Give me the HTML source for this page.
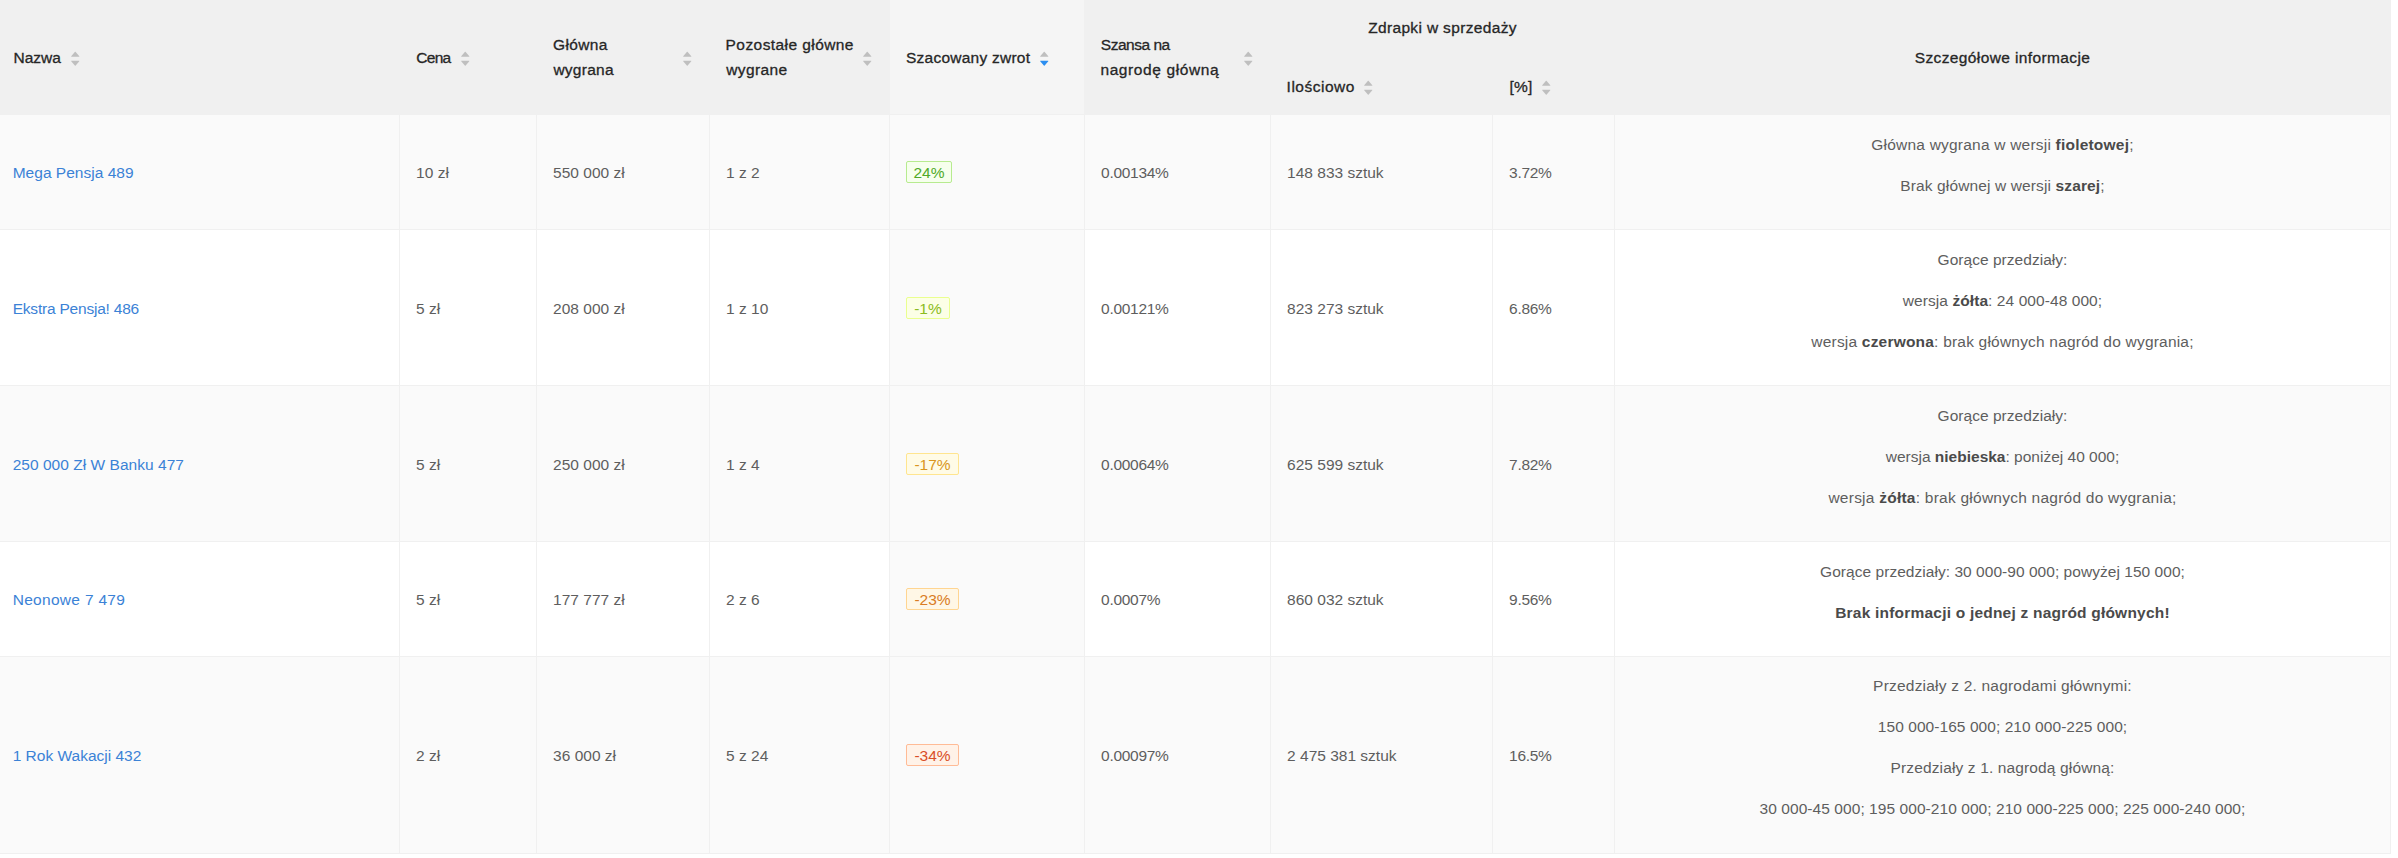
<!DOCTYPE html>
<html lang="pl"><head><meta charset="utf-8"><title>Zdrapki</title>
<style>
html,body{margin:0;padding:0;background:#fff;}
body{width:2398px;height:858px;overflow:hidden;position:relative;font-family:"Liberation Sans",sans-serif;color:#5e5e5e;}
.tb{position:absolute;left:0;top:0;width:2391px;height:854px;}
.bg{position:absolute;}
.t{position:absolute;white-space:nowrap;line-height:25px;height:25px;font-size:15.5px;}
.c{text-align:center;left:1615px;width:775px;}
.h{color:#262626;font-size:15.5px;-webkit-text-stroke:0.3px #262626;}
a{color:#3b82d6;text-decoration:none;}
b{font-weight:700;color:#4a4a4a;}
.tag{position:absolute;box-sizing:border-box;height:22px;border:1px solid;border-radius:2px;line-height:22px;font-size:15.5px;text-align:center;white-space:nowrap;}
svg{position:absolute;display:block;}
</style></head><body><div class="tb">

<div class="bg" style="left:0;top:0;width:2391px;height:115px;background:#f0f0f0"></div>
<div class="bg" style="left:890px;top:0;width:194px;height:114px;background:#f5f5f5"></div>
<div class="bg" style="left:0;top:115px;width:2391px;height:114px;background:#fafafa"></div>
<div class="bg" style="left:0;top:229px;width:2391px;height:1px;background:#f0f0f0"></div>
<div class="bg" style="left:0;top:230px;width:2391px;height:155px;background:#ffffff"></div>
<div class="bg" style="left:890px;top:230px;width:194px;height:155px;background:#fafafa"></div>
<div class="bg" style="left:0;top:385px;width:2391px;height:1px;background:#f0f0f0"></div>
<div class="bg" style="left:0;top:386px;width:2391px;height:155px;background:#fafafa"></div>
<div class="bg" style="left:0;top:541px;width:2391px;height:1px;background:#f0f0f0"></div>
<div class="bg" style="left:0;top:542px;width:2391px;height:114px;background:#ffffff"></div>
<div class="bg" style="left:890px;top:542px;width:194px;height:114px;background:#fafafa"></div>
<div class="bg" style="left:0;top:656px;width:2391px;height:1px;background:#f0f0f0"></div>
<div class="bg" style="left:0;top:657px;width:2391px;height:196px;background:#fafafa"></div>
<div class="bg" style="left:0;top:853px;width:2391px;height:1px;background:#f0f0f0"></div>
<div class="bg" style="left:399px;top:115px;width:1px;height:739px;background:#f0f0f0"></div>
<div class="bg" style="left:536px;top:115px;width:1px;height:739px;background:#f0f0f0"></div>
<div class="bg" style="left:709px;top:115px;width:1px;height:739px;background:#f0f0f0"></div>
<div class="bg" style="left:889px;top:115px;width:1px;height:739px;background:#f0f0f0"></div>
<div class="bg" style="left:1084px;top:115px;width:1px;height:739px;background:#f0f0f0"></div>
<div class="bg" style="left:1270px;top:115px;width:1px;height:739px;background:#f0f0f0"></div>
<div class="bg" style="left:1492px;top:115px;width:1px;height:739px;background:#f0f0f0"></div>
<div class="bg" style="left:1614px;top:115px;width:1px;height:739px;background:#f0f0f0"></div>
<div class="bg" style="left:2390px;top:115px;width:1px;height:739px;background:#f0f0f0"></div>
<div id="h1" class="t h" style="top:45px;left:13.60px;letter-spacing:-0.050px;">Nazwa</div>
<svg style="left:70.25px;top:49.15px" width="10.5" height="10.5" viewBox="64 64 896 896"><path fill="#bfbfbf" d="M858.9 689L530.5 308.2c-9.400-10.900-27.500-10.900-37 0L165.100 689c-12.200 14.200-1.200 35 18.500 35h656.800c19.700 0 30.700-20.800 18.500-35z"/></svg>
<svg style="left:70.25px;top:57.60px" width="10.5" height="10.5" viewBox="64 64 896 896"><path fill="#bfbfbf" d="M840.4 300H183.600c-19.700 0-30.700 20.800-18.500 35l328.400 380.800c9.400 10.900 27.500 10.900 37 0L858.900 335c12.200-14.200 1.200-35-18.500-35z"/></svg>
<div id="h2" class="t h" style="top:45px;left:416.30px;letter-spacing:-0.733px;">Cena</div>
<svg style="left:460.25px;top:49.15px" width="10.5" height="10.5" viewBox="64 64 896 896"><path fill="#bfbfbf" d="M858.9 689L530.5 308.2c-9.400-10.900-27.500-10.900-37 0L165.100 689c-12.200 14.200-1.200 35 18.500 35h656.800c19.700 0 30.700-20.800 18.500-35z"/></svg>
<svg style="left:460.25px;top:57.60px" width="10.5" height="10.5" viewBox="64 64 896 896"><path fill="#bfbfbf" d="M840.4 300H183.600c-19.700 0-30.700 20.800-18.500 35l328.400 380.800c9.400 10.900 27.500 10.900 37 0L858.900 335c12.200-14.200 1.200-35-18.500-35z"/></svg>
<div id="h3a" class="t h" style="top:32px;left:553.00px;letter-spacing:0.360px;">Główna</div>
<div id="h3b" class="t h" style="top:57px;left:553.40px;letter-spacing:0.267px;">wygrana</div>
<svg style="left:682.05px;top:49.15px" width="10.5" height="10.5" viewBox="64 64 896 896"><path fill="#bfbfbf" d="M858.9 689L530.5 308.2c-9.400-10.900-27.500-10.900-37 0L165.100 689c-12.200 14.200-1.200 35 18.500 35h656.800c19.700 0 30.700-20.800 18.500-35z"/></svg>
<svg style="left:682.05px;top:57.60px" width="10.5" height="10.5" viewBox="64 64 896 896"><path fill="#bfbfbf" d="M840.4 300H183.600c-19.700 0-30.700 20.800-18.500 35l328.400 380.800c9.400 10.900 27.500 10.900 37 0L858.900 335c12.200-14.200 1.200-35-18.500-35z"/></svg>
<div id="h4a" class="t h" style="top:32px;left:725.60px;letter-spacing:0.427px;">Pozostałe główne</div>
<div id="h4b" class="t h" style="top:57px;left:726.30px;letter-spacing:0.367px;">wygrane</div>
<svg style="left:862.05px;top:49.15px" width="10.5" height="10.5" viewBox="64 64 896 896"><path fill="#bfbfbf" d="M858.9 689L530.5 308.2c-9.400-10.900-27.500-10.900-37 0L165.100 689c-12.200 14.200-1.200 35 18.500 35h656.800c19.700 0 30.700-20.800 18.500-35z"/></svg>
<svg style="left:862.05px;top:57.60px" width="10.5" height="10.5" viewBox="64 64 896 896"><path fill="#bfbfbf" d="M840.4 300H183.600c-19.700 0-30.700 20.800-18.500 35l328.400 380.800c9.400 10.900 27.500 10.900 37 0L858.900 335c12.200-14.200 1.200-35-18.500-35z"/></svg>
<div id="h5" class="t h" style="top:45px;left:906.00px;letter-spacing:0.243px;">Szacowany zwrot</div>
<svg style="left:1039.25px;top:49.15px" width="10.5" height="10.5" viewBox="64 64 896 896"><path fill="#bfbfbf" d="M858.9 689L530.5 308.2c-9.400-10.900-27.500-10.900-37 0L165.100 689c-12.200 14.200-1.200 35 18.500 35h656.800c19.700 0 30.700-20.800 18.500-35z"/></svg>
<svg style="left:1039.25px;top:57.60px" width="10.5" height="10.5" viewBox="64 64 896 896"><path fill="#2b8ef0" d="M840.4 300H183.600c-19.700 0-30.700 20.800-18.500 35l328.400 380.800c9.400 10.900 27.500 10.900 37 0L858.900 335c12.200-14.200 1.200-35-18.500-35z"/></svg>
<div id="h6a" class="t h" style="top:32px;left:1100.80px;letter-spacing:-0.475px;">Szansa na</div>
<div id="h6b" class="t h" style="top:57px;left:1100.40px;letter-spacing:0.615px;">nagrodę główną</div>
<svg style="left:1243.15px;top:49.15px" width="10.5" height="10.5" viewBox="64 64 896 896"><path fill="#bfbfbf" d="M858.9 689L530.5 308.2c-9.400-10.900-27.500-10.900-37 0L165.100 689c-12.200 14.200-1.200 35 18.500 35h656.800c19.700 0 30.700-20.800 18.500-35z"/></svg>
<svg style="left:1243.15px;top:57.60px" width="10.5" height="10.5" viewBox="64 64 896 896"><path fill="#bfbfbf" d="M840.4 300H183.600c-19.700 0-30.700 20.800-18.500 35l328.400 380.800c9.400 10.900 27.500 10.900 37 0L858.900 335c12.200-14.200 1.200-35-18.500-35z"/></svg>
<div id="h7" class="t h" style="top:15px;left:0.00px;letter-spacing:0.344px;left:1271px;width:343px;text-align:center;">Zdrapki w sprzedaży</div>
<div id="h8" class="t h" style="top:74px;left:1286.60px;letter-spacing:0.500px;">Ilościowo</div>
<svg style="left:1363.05px;top:78.15px" width="10.5" height="10.5" viewBox="64 64 896 896"><path fill="#bfbfbf" d="M858.9 689L530.5 308.2c-9.400-10.900-27.500-10.900-37 0L165.100 689c-12.200 14.200-1.200 35 18.500 35h656.800c19.700 0 30.700-20.800 18.500-35z"/></svg>
<svg style="left:1363.05px;top:86.60px" width="10.5" height="10.5" viewBox="64 64 896 896"><path fill="#bfbfbf" d="M840.4 300H183.600c-19.700 0-30.700 20.800-18.500 35l328.400 380.800c9.400 10.900 27.500 10.900 37 0L858.900 335c12.200-14.200 1.200-35-18.500-35z"/></svg>
<div id="h9" class="t h" style="top:74px;left:1509.60px;letter-spacing:0.100px;">[%]</div>
<svg style="left:1541.25px;top:78.15px" width="10.5" height="10.5" viewBox="64 64 896 896"><path fill="#bfbfbf" d="M858.9 689L530.5 308.2c-9.400-10.900-27.500-10.900-37 0L165.100 689c-12.200 14.200-1.200 35 18.500 35h656.800c19.700 0 30.700-20.800 18.500-35z"/></svg>
<svg style="left:1541.25px;top:86.60px" width="10.5" height="10.5" viewBox="64 64 896 896"><path fill="#bfbfbf" d="M840.4 300H183.600c-19.700 0-30.700 20.800-18.500 35l328.400 380.800c9.400 10.900 27.500 10.900 37 0L858.900 335c12.200-14.200 1.200-35-18.500-35z"/></svg>
<div id="h10" class="t h c" style="top:45px;letter-spacing:0.381px;">Szczegółowe informacje</div>
<div id="r0c1" class="t " style="top:160px;left:12.70px;letter-spacing:0.014px;"><a href="#">Mega Pensja 489</a></div>
<div id="r0c2" class="t " style="top:160px;left:416.10px;">10 zł</div>
<div id="r0c3" class="t " style="top:160px;left:553.10px;">550 000 zł</div>
<div id="r0c4" class="t " style="top:160px;left:726.10px;">1 z 2</div>
<div id="r0c6" class="t " style="top:160px;left:1101.10px;letter-spacing:-0.3px;">0.00134%</div>
<div id="r0c7" class="t " style="top:160px;left:1287.10px;">148 833 sztuk</div>
<div id="r0c8" class="t " style="top:160px;left:1509.10px;letter-spacing:-0.3px;">3.72%</div>
<div class="tag" style="left:906px;top:161px;width:46px;color:#4faa28;background:#f6ffed;border-color:#b7eb8f">24%</div>
<div id="r0p0" class="t  c" style="top:132px;letter-spacing:0.212px;">Główna wygrana w wersji <b>fioletowej</b>;</div>
<div id="r0p1" class="t  c" style="top:173px;letter-spacing:0.129px;">Brak głównej w wersji <b>szarej</b>;</div>
<div id="r1c1" class="t " style="top:296px;left:12.70px;letter-spacing:-0.212px;"><a href="#">Ekstra Pensja! 486</a></div>
<div id="r1c2" class="t " style="top:296px;left:416.10px;">5 zł</div>
<div id="r1c3" class="t " style="top:296px;left:553.10px;">208 000 zł</div>
<div id="r1c4" class="t " style="top:296px;left:726.10px;">1 z 10</div>
<div id="r1c6" class="t " style="top:296px;left:1101.10px;letter-spacing:-0.3px;">0.00121%</div>
<div id="r1c7" class="t " style="top:296px;left:1287.10px;">823 273 sztuk</div>
<div id="r1c8" class="t " style="top:296px;left:1509.10px;letter-spacing:-0.3px;">6.86%</div>
<div class="tag" style="left:906px;top:297px;width:44px;color:#8bbc20;background:#fcffe6;border-color:#eaff8f">-1%</div>
<div id="r1p0" class="t  c" style="top:247px;letter-spacing:0.035px;">Gorące przedziały:</div>
<div id="r1p1" class="t  c" style="top:288px;letter-spacing:0.074px;">wersja <b>żółta</b>: 24 000-48 000;</div>
<div id="r1p2" class="t  c" style="top:329px;letter-spacing:0.204px;">wersja <b>czerwona</b>: brak głównych nagród do wygrania;</div>
<div id="r2c1" class="t " style="top:452px;left:12.70px;letter-spacing:0.029px;"><a href="#">250 000 Zł W Banku 477</a></div>
<div id="r2c2" class="t " style="top:452px;left:416.10px;">5 zł</div>
<div id="r2c3" class="t " style="top:452px;left:553.10px;">250 000 zł</div>
<div id="r2c4" class="t " style="top:452px;left:726.10px;">1 z 4</div>
<div id="r2c6" class="t " style="top:452px;left:1101.10px;letter-spacing:-0.3px;">0.00064%</div>
<div id="r2c7" class="t " style="top:452px;left:1287.10px;">625 599 sztuk</div>
<div id="r2c8" class="t " style="top:452px;left:1509.10px;letter-spacing:-0.3px;">7.82%</div>
<div class="tag" style="left:906px;top:453px;width:53px;color:#d99621;background:#fffbe6;border-color:#ffe58f">-17%</div>
<div id="r2p0" class="t  c" style="top:403px;letter-spacing:0.035px;">Gorące przedziały:</div>
<div id="r2p1" class="t  c" style="top:444px;">wersja <b>niebieska</b>: poniżej 40 000;</div>
<div id="r2p2" class="t  c" style="top:485px;letter-spacing:0.239px;">wersja <b>żółta</b>: brak głównych nagród do wygrania;</div>
<div id="r3c1" class="t " style="top:587px;left:12.70px;letter-spacing:0.300px;"><a href="#">Neonowe 7 479</a></div>
<div id="r3c2" class="t " style="top:587px;left:416.10px;">5 zł</div>
<div id="r3c3" class="t " style="top:587px;left:553.10px;">177 777 zł</div>
<div id="r3c4" class="t " style="top:587px;left:726.10px;">2 z 6</div>
<div id="r3c6" class="t " style="top:587px;left:1101.10px;letter-spacing:-0.3px;">0.0007%</div>
<div id="r3c7" class="t " style="top:587px;left:1287.10px;">860 032 sztuk</div>
<div id="r3c8" class="t " style="top:587px;left:1509.10px;letter-spacing:-0.3px;">9.56%</div>
<div class="tag" style="left:906px;top:588px;width:53px;color:#d97c23;background:#fff7e6;border-color:#ffd591">-23%</div>
<div id="r3p0" class="t  c" style="top:559px;letter-spacing:0.041px;">Gorące przedziały: 30 000-90 000; powyżej 150 000;</div>
<div id="r3p1" class="t  c" style="top:600px;letter-spacing:0.210px;"><b>Brak informacji o jednej z nagród głównych!</b></div>
<div id="r4c1" class="t " style="top:743px;left:12.70px;"><a href="#">1 Rok Wakacji 432</a></div>
<div id="r4c2" class="t " style="top:743px;left:416.10px;">2 zł</div>
<div id="r4c3" class="t " style="top:743px;left:553.10px;">36 000 zł</div>
<div id="r4c4" class="t " style="top:743px;left:726.10px;">5 z 24</div>
<div id="r4c6" class="t " style="top:743px;left:1101.10px;letter-spacing:-0.3px;">0.00097%</div>
<div id="r4c7" class="t " style="top:743px;left:1287.10px;">2 475 381 sztuk</div>
<div id="r4c8" class="t " style="top:743px;left:1509.10px;letter-spacing:-0.3px;">16.5%</div>
<div class="tag" style="left:906px;top:744px;width:53px;color:#d94e27;background:#fff2e8;border-color:#ffbb96">-34%</div>
<div id="r4p0" class="t  c" style="top:673px;letter-spacing:0.206px;">Przedziały z 2. nagrodami głównymi:</div>
<div id="r4p1" class="t  c" style="top:714px;letter-spacing:0.062px;">150 000-165 000; 210 000-225 000;</div>
<div id="r4p2" class="t  c" style="top:755px;letter-spacing:0.133px;">Przedziały z 1. nagrodą główną:</div>
<div id="r4p3" class="t  c" style="top:796px;letter-spacing:0.062px;">30 000-45 000; 195 000-210 000; 210 000-225 000; 225 000-240 000;</div>
</div></body></html>
